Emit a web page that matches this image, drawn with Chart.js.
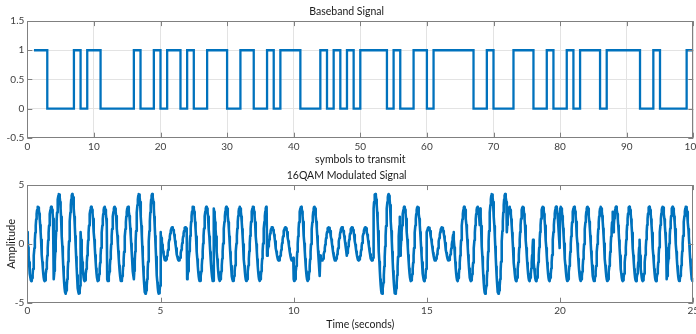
<!DOCTYPE html>
<html>
<head>
<meta charset="utf-8">
<script src="https://cdn.jsdelivr.net/npm/chart.js@4.4.1/dist/chart.umd.min.js"></script>
<style>
  html, body { margin: 0; padding: 0; background: #fff; overflow: hidden; }
  .panel { position: absolute; left: 0; width: 696px; height: 167px; }
  #topPanel { top: 0; }
  #botPanel { top: 167px; }
</style>
</head>
<body>
<div class="panel" id="topPanel"><canvas id="basebandChart"></canvas></div>
<div class="panel" id="botPanel"><canvas id="qamChart"></canvas></div>
<script>
// bits (symbol 1..100)
const bits = [
  1,1,0,0, 0,0,1,0, 1,1,0,0, 0,0,0,1, 0,0,1,0,
  1,1,0,1, 0,0,1,1, 1,0,0,1, 1,0,0,1, 0,1,1,1,
  0,0,0,1, 0,1,0,1, 0,1,1,1, 1,0,1,0, 0,1,1,0,
  1,1,1,1, 1,1,0,0, 1,0,0,0, 1,1,1,0, 0,1,0,0,
  1,0,1,1, 1,0,1,1, 1,1,1,0, 0,1,0,0, 0,0,1,1
];

// in-phase / quadrature level of each 1 s symbol, read from amplitude & phase of the waveform
const symI = [1,-3,1,-3,-3,1,-3,3,3,-1,-3,-1,-1,3,-1,1,1,3,1,-1,3,3,1,-1,-3];
const symQ = [3,-3,3,1,-3,1,-1,1,1,-1,1,1,-1,-3,-3,-1,3,3,-3,3,-1,-1,-3,3,-1];
const carrierHz = 2;
const samplesPerSymbol = 60;

const bbTicksX = [0,10,20,30,40,50,60,70,80,90,100];
const bbTicksY = [-0.5,0,0.5,1,1.5];
const qamTicksX = [0,5,10,15,20,25];
const qamTicksY = [-5,0,5];

const LINE = '#0072BD';
const FONT = 'Lato';

// stairs points
const stairsPts = bits.map((b, i) => ({ x: i + 1, y: b }));

// modulated waveform, one block of samples per symbol
const qamPts = [];
symI.forEach((I, k) => {
  const Q = symQ[k];
  for (let n = 0; n <= samplesPerSymbol; n++) {
    if (n === samplesPerSymbol && k < symI.length - 1) break;
    const t = k + n / samplesPerSymbol;
    const w = 2 * Math.PI * carrierHz * t;
    qamPts.push({ x: t, y: I * Math.cos(w) - Q * Math.sin(w) });
  }
});

// matlab-like axes box with inward ticks
const boxTicks = {
  id: 'boxTicks',
  afterDraw(chart) {
    const { ctx, chartArea: a, scales: { x, y } } = chart;
    const L = 5;
    ctx.save();
    ctx.strokeStyle = '#808080';
    ctx.lineWidth = 1;
    ctx.strokeRect(Math.round(a.left) + 0.5, Math.round(a.top) + 0.5,
                   Math.round(a.width) - 1, Math.round(a.height) - 1);
    ctx.beginPath();
    x.ticks.forEach(t => {
      const px = Math.round(x.getPixelForValue(t.value)) + 0.5;
      ctx.moveTo(px, a.bottom); ctx.lineTo(px, a.bottom - L);
      ctx.moveTo(px, a.top); ctx.lineTo(px, a.top + L);
    });
    y.ticks.forEach(t => {
      const py = Math.round(y.getPixelForValue(t.value)) + 0.5;
      ctx.moveTo(a.left, py); ctx.lineTo(a.left + L, py);
      ctx.moveTo(a.right, py); ctx.lineTo(a.right - L, py);
    });
    ctx.stroke();
    ctx.restore();
  }
};

function fixedTicks(list) {
  return function (scale) {
    scale.ticks = list.map(v => ({ value: v }));
  };
}

const tickFont = { family: FONT, size: 10 };

// --- top: baseband stairs ---
new Chart(document.getElementById('basebandChart'), {
  type: 'line',
  data: {
    datasets: [{
      data: stairsPts,
      borderColor: LINE,
      borderWidth: 2.3,
      pointRadius: 0,
      stepped: 'before',
      fill: false
    }]
  },
  options: {
    responsive: true,
    maintainAspectRatio: false,
    animation: false,
    events: [],
    layout: { padding: { left: 0, right: 2.7, top: 0, bottom: 0 } },
    plugins: {
      legend: { display: false },
      tooltip: { enabled: false },
      title: {
        display: true,
        text: 'Baseband Signal',
        color: '#1a1a1a',
        font: { family: FONT, size: 10.5, weight: 'normal' },
        padding: { top: 5, bottom: 3.5 }
      }
    },
    scales: {
      x: {
        type: 'linear', min: 0, max: 100,
        afterBuildTicks: fixedTicks(bbTicksX),
        ticks: { color: '#404040', font: tickFont, padding: 3, maxRotation: 0, autoSkip: false },
        grid: { color: '#e3e3e3', drawTicks: false },
        border: { display: false },
        title: { display: true, text: 'symbols to transmit', color: '#1a1a1a',
                 font: { family: FONT, size: 10.5 }, padding: { top: 0, bottom: 1.5 } },
        afterFit(s) { s.height = 29.3; s.paddingLeft = 0; s.paddingRight = 0; }
      },
      y: {
        type: 'linear', min: -0.5, max: 1.5,
        afterBuildTicks: fixedTicks(bbTicksY),
        ticks: { color: '#404040', font: tickFont, padding: 3, callback: v => String(v) },
        grid: { color: '#e3e3e3', drawTicks: false },
        border: { display: false },
        afterFit(s) { s.width = 27.3; }
      }
    }
  },
  plugins: [boxTicks]
});

// --- bottom: 16QAM waveform ---
new Chart(document.getElementById('qamChart'), {
  type: 'line',
  data: {
    datasets: [{
      data: qamPts,
      borderColor: LINE,
      borderWidth: 2.6,
      borderJoinStyle: 'round',
      borderCapStyle: 'round',
      pointRadius: 0,
      tension: 0,
      fill: false
    }]
  },
  options: {
    responsive: true,
    maintainAspectRatio: false,
    animation: false,
    events: [],
    layout: { padding: { left: 0, right: 2.7, top: 0, bottom: 0 } },
    plugins: {
      legend: { display: false },
      tooltip: { enabled: false },
      title: {
        display: true,
        text: '16QAM Modulated Signal',
        color: '#1a1a1a',
        font: { family: FONT, size: 10.5, weight: 'normal' },
        padding: { top: 2.4, bottom: 3.1 }
      }
    },
    scales: {
      x: {
        type: 'linear', min: 0, max: 25,
        afterBuildTicks: fixedTicks(qamTicksX),
        ticks: { color: '#404040', font: tickFont, padding: 2, maxRotation: 0, autoSkip: false },
        grid: { display: false, drawTicks: false },
        border: { display: false },
        title: { display: true, text: 'Time (seconds)', color: '#1a1a1a',
                 font: { family: FONT, size: 10.5 }, padding: { top: 0, bottom: 3.2 } },
        afterFit(s) { s.height = 31.3; s.paddingLeft = 0; s.paddingRight = 0; }
      },
      y: {
        type: 'linear', min: -5, max: 5,
        afterBuildTicks: fixedTicks(qamTicksY),
        ticks: { color: '#404040', font: tickFont, padding: 3 },
        grid: { display: false, drawTicks: false },
        border: { display: false },
        title: { display: true, text: 'Amplitude', color: '#1a1a1a',
                 font: { family: FONT, size: 11 }, padding: { top: 4.4, bottom: 0 } },
        afterFit(s) { s.width = 27.3; }
      }
    }
  },
  plugins: [boxTicks]
});
</script>
</body>
</html>
